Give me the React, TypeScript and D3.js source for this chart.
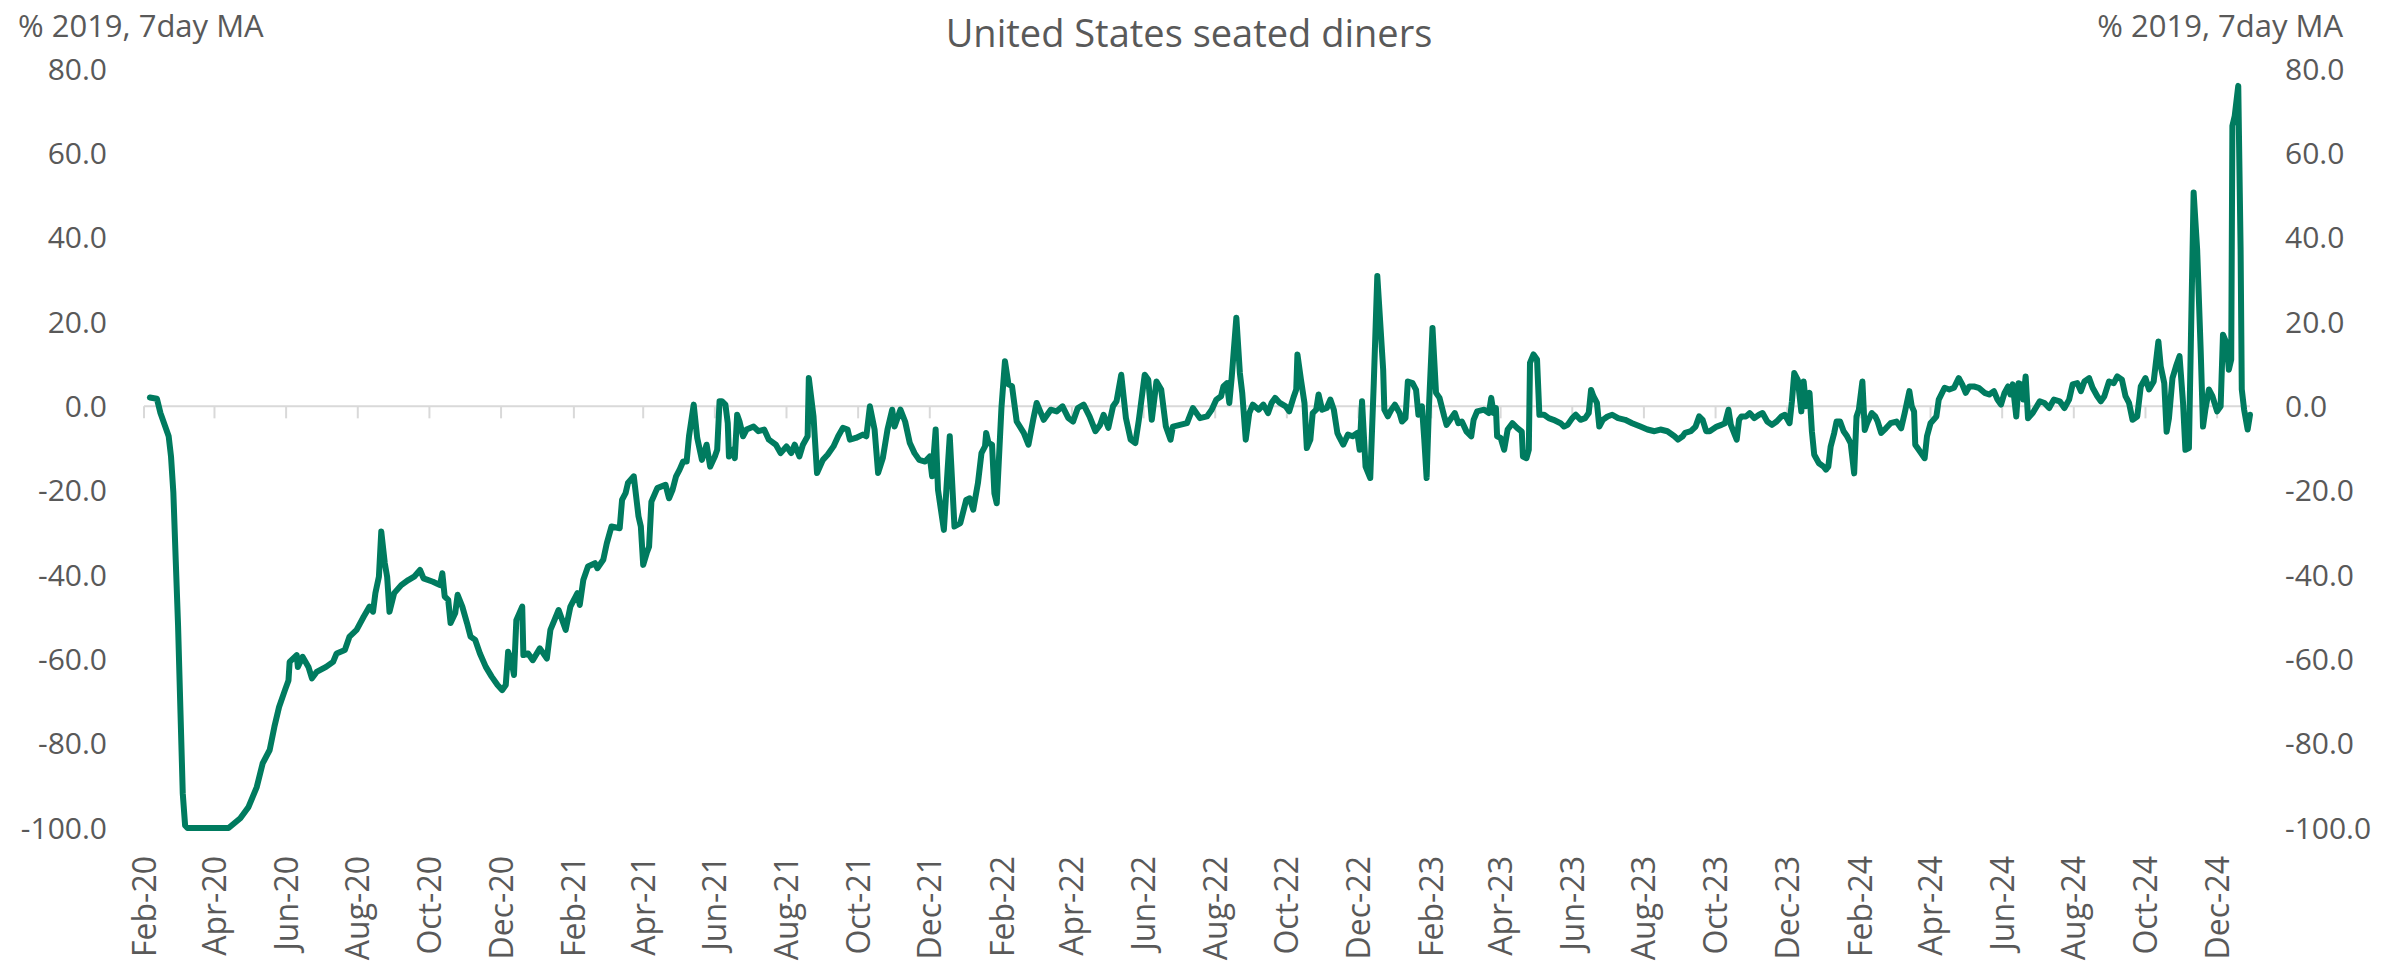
import * as React from 'react';
import * as d3 from 'd3';

// United States seated diners, % of 2019, 7 day moving average
// every point is [days since the first axis date, value]
const seriesStart = new Date(2020, 1, 18);

const diners2020: [number, number][] = [
	[5, 2.1], [11, 1.8], [14, -1.6], [18, -4.7], [21, -7.1], [23, -11.9], [25, -20.5], [27, -36.4], [29, -52], [31, -72],
	[33, -91.8], [35, -99.4], [37, -100], [72, -100], [82, -97.7], [89, -95], [96, -90.3], [101, -84.7], [107, -81.5], [111, -76],
	[115, -71.3], [120, -67.3], [123, -65], [124, -60.6], [130, -59], [131, -61.8], [135, -59.4], [140, -61.8], [143, -64.5], [147, -63],
	[155, -61.8], [161, -60.6], [164, -58.6], [171, -57.8], [175, -54.6], [181, -53], [187, -49.9], [192, -47.5], [195, -48.7], [197, -44.3],
	[200, -40.4], [202, -29.7], [205, -37.2], [207, -40.4], [209, -48.7], [213, -44.3], [219, -42.4], [225, -41.2], [230, -40.4], [235, -38.8],
	[238, -40.8], [246, -41.6], [252, -42.4], [254, -39.6], [256, -45.1], [259, -45.9], [261, -51.4], [265, -49], [267, -44.7], [271, -47.5],
	[275, -51.4], [278, -54.6], [282, -55.4], [286, -58.6], [291, -61.8], [296, -64.1], [301, -66.1], [305, -67.3], [308, -66.1], [310, -58.2],
	[313, -60.6], [315, -63.7], [317, -50.7],
];

const diners2021: [number, number][] = [
	[322, -47.5], [323, -59], [327, -58.6], [331, -60.2], [337, -57.4], [343, -59.8], [346, -53], [353, -48.3], [359, -53], [363, -47.5],
	[369, -44.3], [371, -47.1], [374, -41.2], [378, -38], [384, -37.2], [386, -38.4], [391, -36.4], [394, -32.5], [398, -28.5], [405, -28.9],
	[407, -22.2], [410, -20.6], [412, -18.2], [417, -16.6], [421, -26.1], [423, -28.5], [425, -37.6], [428, -34.8], [430, -33.3], [432, -22.6],
	[437, -19.4], [444, -18.6], [447, -21.8], [450, -19.8], [453, -16.6], [456, -15], [459, -13.1], [462, -13.1], [464, -7.1], [468, 0.4],
	[471, -7.5], [475, -12.7], [479, -9.1], [482, -14.3], [486, -11.9], [488, -10.3], [490, 1.2], [492, 1.2], [495, 0.4], [497, -4],
	[498, -11.9], [501, -10.3], [503, -12.3], [505, -2], [507, -3.6], [510, -7.1], [513, -5.5], [519, -4.8], [523, -5.9], [528, -5.5],
	[532, -7.9], [538, -9.1], [542, -11.1], [547, -9.5], [551, -11.1], [554, -9.1], [558, -11.9], [561, -9.1], [565, -7.1], [566, 6.7],
	[570, -2.4], [573, -15.8], [578, -12.7], [582, -11.5], [587, -9.5], [591, -7.1], [595, -5.1], [599, -5.5], [601, -7.9], [606, -7.5],
	[612, -6.7], [615, -7.1], [618, 0], [622, -5.5], [625, -15.8], [629, -12.3], [633, -5.5], [637, -0.8], [639, -4.8], [644, -0.8],
	[648, -3.6], [652, -8.7], [656, -11.1], [660, -12.7], [665, -13.1], [669, -11.9], [671, -16.6], [674, -5.5], [676, -19.8], [681, -29.3],
];

const diners2022: [number, number][] = [
	[684, -15.8], [686, -7.1], [690, -28.5], [695, -27.7], [700, -22.2], [703, -21.8], [706, -24.5], [710, -18.2], [713, -11.1], [716, -9.5],
	[717, -6.3], [719, -8.7], [722, -9.1], [724, -20.6], [726, -23], [730, -0.4], [733, 10.7], [736, 5.2], [739, 4.8], [743, -3.6],
	[749, -6.3], [753, -9.1], [757, -3.2], [760, 0.8], [766, -3.2], [772, -0.8], [777, -1.2], [782, 0], [787, -2.8], [791, -3.6],
	[795, -0.4], [800, 0.4], [805, -2.4], [810, -5.9], [814, -4.4], [817, -2], [821, -5.1], [825, 0], [828, 1.2], [832, 7.5],
	[836, -2.8], [840, -7.9], [844, -8.7], [847, -3.2], [852, 7.5], [855, 6.3], [858, -3.2], [862, 5.9], [866, 4], [870, -4.8],
	[874, -7.9], [876, -4.8], [882, -4.4], [888, -4], [893, -0.4], [899, -2.8], [905, -2.4], [909, -0.8], [913, 1.6], [917, 2.4],
	[919, 4.7], [922, 5.5], [924, 0.8], [926, 6.7], [930, 21], [933, 7.9], [935, 3.2], [938, -7.9], [941, -1.6], [944, 0.4],
	[949, -0.8], [953, 0.4], [957, -1.6], [960, 0.8], [963, 2], [967, 0.8], [972, 0], [975, -1.2], [979, 2.4], [981, 4],
	[982, 12.3], [985, 6.3], [988, 0.8], [990, -9.9], [993, -7.9], [995, -1.6], [998, -0.8], [1000, 2.8], [1003, -0.8], [1007, -0.4],
	[1010, 1.6], [1013, -0.8], [1016, -6.3], [1018, -7.5], [1021, -9.1], [1025, -6.7], [1029, -7.1], [1033, -6.3], [1035, -10.3], [1037, 1.2],
	[1040, -14.3], [1044, -17], [1047, 5.5],
];

const diners2023: [number, number][] = [
	[1050, 30.9], [1055, 8.7], [1056, -0.8], [1059, -2.4], [1062, -0.8], [1065, 0.4], [1069, -1.6], [1071, -3.6], [1074, -2.8], [1076, 5.9],
	[1080, 5.5], [1083, 3.9], [1085, -2], [1088, 0], [1090, -7.9], [1092, -17], [1094, 0], [1097, 18.6], [1100, 3.2], [1103, 2],
	[1107, -2.4], [1109, -4.4], [1112, -3.2], [1116, -1.6], [1119, -4], [1122, -3.6], [1126, -6], [1130, -7.1], [1132, -3.2], [1135, -1.2],
	[1141, -0.8], [1145, -1.6], [1147, 2], [1149, -1.6], [1151, -0.4], [1152, -7.1], [1155, -7.5], [1158, -10.3], [1161, -5.5], [1165, -4],
	[1169, -5.1], [1173, -6], [1174, -11.9], [1177, -12.3], [1179, -10.3], [1180, 10.3], [1183, 12.3], [1186, 11.1], [1188, -2], [1192, -2],
	[1196, -2.8], [1200, -3.2], [1206, -4], [1209, -4.8], [1212, -4.4], [1216, -2.8], [1219, -2], [1223, -3.2], [1227, -2.8], [1230, -1.6],
	[1232, 3.9], [1234, 2.4], [1237, 0.8], [1239, -4.8], [1242, -3.2], [1246, -2.4], [1250, -2], [1255, -2.8], [1261, -3.2], [1267, -4],
	[1274, -4.8], [1280, -5.5], [1286, -5.9], [1291, -5.5], [1297, -5.9], [1303, -7.1], [1306, -7.9], [1310, -7.1], [1312, -6.3], [1317, -5.9],
	[1321, -4.8], [1324, -2.4], [1327, -3.2], [1330, -5.9], [1333, -5.9], [1339, -4.8], [1343, -4.4], [1346, -4], [1349, -0.8], [1351, -4.4],
	[1356, -7.9], [1358, -3.2], [1360, -2.4], [1364, -2.4], [1367, -1.6], [1371, -2.8], [1375, -2], [1378, -1.6], [1382, -3.6], [1386, -4.4],
	[1390, -3.6], [1394, -2.4], [1397, -2], [1401, -4], [1403, 1.2], [1405, 7.9], [1408, 6.3], [1411, -1.2],
];

const diners2024: [number, number][] = [
	[1413, 5.9], [1415, 0], [1418, 3.2], [1420, -5.9], [1422, -11.5], [1426, -13.5], [1430, -14.3], [1432, -15], [1434, -14.3], [1436, -9.5],
	[1439, -6.3], [1441, -3.6], [1444, -3.6], [1447, -5.9], [1450, -7.1], [1453, -8.7], [1456, -15.9], [1458, -2.4], [1460, -0.8], [1463, 5.9],
	[1465, -5.6], [1467, -4], [1471, -1.6], [1474, -2.4], [1476, -3.6], [1479, -6.3], [1483, -5.2], [1487, -4], [1492, -3.6], [1496, -5.2],
	[1499, -1.6], [1503, 3.6], [1505, 0], [1507, -1.2], [1508, -9.1], [1511, -10.3], [1516, -12.3], [1518, -7.1], [1521, -4], [1526, -2.4],
	[1528, 1.6], [1533, 4.4], [1537, 4], [1541, 4.4], [1545, 6.7], [1548, 5.2], [1551, 3.2], [1554, 4.7], [1558, 4.7], [1562, 4.4],
	[1567, 3.2], [1571, 2.8], [1575, 3.6], [1578, 1.6], [1581, 0.4], [1584, 3.2], [1587, 4.7], [1589, 2.8], [1591, 5.2], [1594, -2.4],
	[1596, 5.5], [1598, 5.2], [1600, 1.6], [1602, 7.1], [1604, -2.8], [1608, -1.6], [1614, 1.2], [1618, 0.8], [1622, -0.4], [1626, 1.6],
	[1631, 1.2], [1635, -0.4], [1639, 1.6], [1642, 5.2], [1646, 5.5], [1649, 3.6], [1652, 5.9], [1656, 6.7], [1659, 4.4], [1663, 2.4],
	[1666, 1.2], [1669, 2.4], [1673, 5.9], [1677, 5.5], [1680, 7.1], [1684, 6.3], [1687, 2.4], [1690, 0.8], [1693, -3.2], [1697, -2.4],
	[1700, 4.7], [1704, 6.7], [1707, 4], [1711, 5.9], [1715, 15.4], [1717, 9.5], [1720, 5.5], [1722, -6], [1724, -2.8], [1727, 6.7],
	[1730, 9.5], [1733, 11.9], [1736, 0.8], [1738, -10.3], [1741, -9.9], [1745, 50.7], [1748, 37.2], [1751, 13.4], [1753, -4.8], [1755, -0.8],
	[1758, 4], [1761, 2.4], [1765, -1.2], [1768, 0], [1770, 17], [1773, 15], [1775, 8.7], [1777, 11.1], [1778, 66.5],
];

const diners2025: [number, number][] = [
	[1780, 68.9], [1783, 76], [1785, 37.2], [1786, 4], [1788, -0.8], [1791, -5.5], [1793, -2],
];

const yTicks: number[] = [80, 60, 40, 20, 0, -20, -40, -60, -80, -100];

const xTickLabels: string[] = [
	'Feb-20', 'Apr-20', 'Jun-20', 'Aug-20', 'Oct-20', 'Dec-20',
	'Feb-21', 'Apr-21', 'Jun-21', 'Aug-21', 'Oct-21', 'Dec-21',
	'Feb-22', 'Apr-22', 'Jun-22', 'Aug-22', 'Oct-22', 'Dec-22',
	'Feb-23', 'Apr-23', 'Jun-23', 'Aug-23', 'Oct-23', 'Dec-23',
	'Feb-24', 'Apr-24', 'Jun-24', 'Aug-24', 'Oct-24', 'Dec-24',
];

const chartTitle = 'United States seated diners';
const axisTitle = '% 2019, 7day MA';

const WIDTH = 2384;
const HEIGHT = 967;
const FONT = "'Segoe UI', 'Open Sans', sans-serif";
const TEXT_COLOR = '#595959';
const LINE_COLOR = '#007B5F';

interface IPoint {
	date: Date;
	value: number;
}

class SeatedDinersChart extends React.Component<any, any> {
	private svgRef = React.createRef<SVGSVGElement>();

	public render() {
		return (
			<svg
				ref={this.svgRef}
				width={WIDTH}
				height={HEIGHT}
				style={{ position: 'absolute', left: 0, top: 0, display: 'block', background: '#fff' }}
			/>
		);
	}

	public componentDidMount() {
		const svg = d3.select(this.svgRef.current);
		// clear anything left from a previous mount
		svg.selectAll('*').remove();

		const data: IPoint[] = [...diners2020, ...diners2021, ...diners2022, ...diners2023, ...diners2024, ...diners2025].map(
			([day, value]) => ({ date: d3.timeDay.offset(seriesStart, day), value })
		);

		const x = d3.scaleTime().domain([seriesStart, data[data.length - 1].date]).range([144, 2250]);
		const y = d3.scaleLinear().domain([-100, 80]).range([828, 69]);

		this.displayTitles(svg);
		this.displayYAxes(svg, y);
		this.displayXAxis(svg, x, y);
		this.displayLine(svg, data, x, y);
	}

	public displayTitles(svg: d3.Selection<any, any, any, any>): void {
		svg.append('text')
			.attr('x', 1189)
			.attr('y', 47)
			.attr('text-anchor', 'middle')
			.attr('font-family', FONT)
			.attr('font-size', 38)
			.attr('fill', TEXT_COLOR)
			.text(chartTitle);

		// axis titles, one on each side
		svg.append('text')
			.attr('x', 18)
			.attr('y', 37)
			.attr('font-family', FONT)
			.attr('font-size', 31)
			.attr('fill', TEXT_COLOR)
			.text(axisTitle);
		svg.append('text')
			.attr('x', 2343)
			.attr('y', 37)
			.attr('text-anchor', 'end')
			.attr('font-family', FONT)
			.attr('font-size', 31)
			.attr('fill', TEXT_COLOR)
			.text(axisTitle);
	}

	public displayYAxes(svg: d3.Selection<any, any, any, any>, y: d3.ScaleLinear<number, number>): void {
		// same labels left (right aligned) and right (left aligned), no axis lines
		const sides: [number, string][] = [[107, 'end'], [2285, 'start']];
		sides.forEach(([xPos, anchor]) => {
			svg.append('g')
				.selectAll('text')
				.data(yTicks)
				.enter()
				.append('text')
				.attr('x', xPos)
				.attr('y', (d: number) => y(d))
				.attr('dy', '0.36em')
				.attr('text-anchor', anchor)
				.attr('font-family', FONT)
				.attr('font-size', 30)
				.attr('fill', TEXT_COLOR)
				.text((d: number) => d.toFixed(1));
		});
	}

	public displayXAxis(
		svg: d3.Selection<any, any, any, any>,
		x: d3.ScaleTime<number, number>,
		y: d3.ScaleLinear<number, number>
	): void {
		const y0 = y(0);
		const [x0, x1] = x.range();
		const tickDates = xTickLabels.map((_, i) => d3.timeMonth.offset(seriesStart, i * 2));

		// the zero line works as the date axis
		svg.append('line')
			.attr('x1', x0)
			.attr('x2', x1)
			.attr('y1', y0)
			.attr('y2', y0)
			.attr('stroke', '#D9D9D9')
			.attr('stroke-width', 2);

		svg.append('g')
			.selectAll('line')
			.data(tickDates)
			.enter()
			.append('line')
			.attr('x1', (d: Date) => x(d))
			.attr('x2', (d: Date) => x(d))
			.attr('y1', y0)
			.attr('y2', y0 + 12)
			.attr('stroke', '#D9D9D9')
			.attr('stroke-width', 2);

		// labels sit under the plot, rotated
		svg.append('g')
			.selectAll('text')
			.data(tickDates)
			.enter()
			.append('text')
			.attr('transform', (d: Date) => `translate(${x(d)},856) rotate(-90)`)
			.attr('dy', '0.36em')
			.attr('text-anchor', 'end')
			.attr('font-family', FONT)
			.attr('font-size', 32)
			.attr('fill', TEXT_COLOR)
			.text((_: Date, i: number) => xTickLabels[i]);
	}

	public displayLine(
		svg: d3.Selection<any, any, any, any>,
		data: IPoint[],
		x: d3.ScaleTime<number, number>,
		y: d3.ScaleLinear<number, number>
	): void {
		const line = d3
			.line<IPoint>()
			.x((d) => x(d.date))
			.y((d) => y(d.value));

		svg.append('path')
			.datum(data)
			.attr('d', line)
			.attr('fill', 'none')
			.attr('stroke', LINE_COLOR)
			.attr('stroke-width', 6)
			.attr('stroke-linejoin', 'round')
			.attr('stroke-linecap', 'round');
	}
}

export default function App() {
	return <SeatedDinersChart />;
}
